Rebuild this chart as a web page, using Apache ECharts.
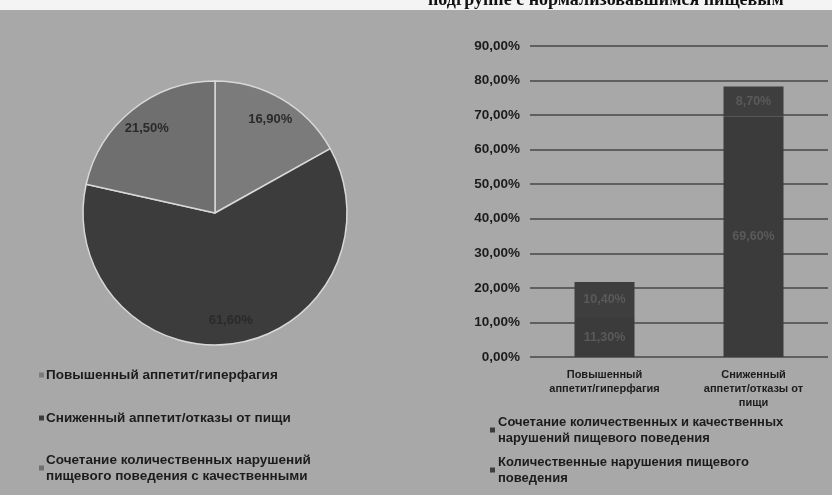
<!DOCTYPE html>
<html>
<head>
<meta charset="utf-8">
<script src="https://cdn.jsdelivr.net/npm/echarts@6/dist/echarts.min.js"></script>
<style>
  html, body { margin: 0; padding: 0; background: #a8a8a8; }
  #main { width: 832px; height: 495px; }
</style>
</head>
<body>
<div id="main"></div>
<script>
// круговая диаграмма
const pieNames = [
    'Повышенный аппетит/гиперфагия',
    'Сниженный аппетит/отказы от пищи',
    'Сочетание количественных нарушений\nпищевого поведения с качественными'
];
const pieValues = [16.9, 61.6, 21.5];
const pieColors = ['#7b7b7b', '#3c3c3c', '#6f6f6f'];

// столбчатая диаграмма
const barCategories = ['Повышенный\nаппетит/гиперфагия', 'Сниженный\nаппетит/отказы от\nпищи'];
const seriesNames = [
    'Сочетание количественных и качественных\nнарушений пищевого поведения',
    'Количественные нарушения пищевого\nповедения'
];
const combinedValues = [11.3, 69.6];
const quantValues = [10.4, 8.7];
const yTicks = [0, 10, 20, 30, 40, 50, 60, 70, 80, 90];

const pct = v => v.toFixed(2).replace('.', ',') + '%';
const font = '"Liberation Sans", Arial, sans-serif';

var chartDom = document.getElementById('main');
var myChart = echarts.init(chartDom);
var option;

const pieData = pieNames.map((n, i) => ({ name: n, value: pieValues[i], itemStyle: { color: pieColors[i] } }));
const legendText = size => ({ fontSize: size, fontWeight: 'bold', color: '#1c1c1c', lineHeight: 16 });

option = {
    backgroundColor: '#a8a8a8',
    animation: false,
    textStyle: { fontFamily: font },
    graphic: [
        { type: 'rect', shape: { x: 0, y: 0, width: 832, height: 10 }, style: { fill: '#f4f4f4' } },
        {
            type: 'text', left: 428, top: -9,
            style: { text: 'подгруппе с нормализовавшимся пищевым', fill: '#111', font: 'bold 18px "Liberation Serif", serif' }
        }
    ],
    legend: [
        {
            data: pieNames.slice(0, 2),
            orient: 'vertical', left: 39, top: 367, itemGap: 27, padding: 0,
            icon: 'rect', itemWidth: 5, itemHeight: 5, itemGap: 27,
            itemStyle: { borderWidth: 0 },
            textStyle: Object.assign(legendText(13.5), { padding: [0, 0, 0, -3] })
        },
        {
            data: pieNames.slice(2),
            orient: 'vertical', left: 39, top: 452, padding: 0,
            icon: 'rect', itemWidth: 5, itemHeight: 5,
            itemStyle: { borderWidth: 0 },
            textStyle: Object.assign(legendText(13.5), { padding: [0, 0, 0, -3] })
        },
        {
            data: seriesNames,
            orient: 'vertical', left: 490, top: 414, itemGap: 8, padding: 0,
            icon: 'rect', itemWidth: 5, itemHeight: 5,
            textStyle: Object.assign(legendText(13), { padding: [0, 0, 0, -2] })
        }
    ],
    grid: { left: 530, right: 4, top: 46, bottom: 138 },
    xAxis: {
        type: 'category',
        data: barCategories,
        axisLine: { show: false },
        axisTick: { show: false },
        axisLabel: { interval: 0, fontSize: 11, fontWeight: 'bold', color: '#1c1c1c', lineHeight: 14, margin: 11 }
    },
    yAxis: {
        type: 'value',
        min: 0, max: 90, interval: 10,
        axisLine: { show: false },
        axisTick: { show: false },
        axisLabel: { fontSize: 13.5, fontWeight: 'bold', color: '#1c1c1c', margin: 10, formatter: v => pct(v) },
        splitLine: { lineStyle: { color: '#474747', width: 1.5 } }
    },
    series: [
        {
            type: 'pie',
            name: 'pie',
            center: [215, 213],
            radius: [0, 132],
            startAngle: 90,
            clockwise: true,
            data: pieData,
            label: { show: false },
            labelLine: { show: false },
            itemStyle: { borderColor: '#d8d8d8', borderWidth: 1.5 }
        },
        {
            // слой для подписей секторов
            type: 'pie',
            name: 'pieLabels',
            center: [215, 213],
            radius: [80, 132],
            startAngle: 90,
            clockwise: true,
            silent: true,
            legendHoverLink: false,
            data: pieNames.map((n, i) => ({ name: n, value: pieValues[i] })),
            itemStyle: { color: 'rgba(0,0,0,0)' },
            label: {
                show: true, position: 'inside',
                formatter: p => pct(p.value),
                fontSize: 13, fontWeight: 'bold',
                color: '#2a2a2a'
            },
            labelLine: { show: false }
        },
        {
            name: seriesNames[0],
            type: 'bar',
            stack: 'total',
            barWidth: 60,
            data: combinedValues,
            itemStyle: { color: '#3b3b3b' },
            label: { show: true, position: 'inside', formatter: p => pct(p.value), color: '#5a5a5a', fontSize: 12.5, fontWeight: 'bold' }
        },
        {
            name: seriesNames[1],
            type: 'bar',
            stack: 'total',
            barWidth: 60,
            data: quantValues,
            itemStyle: { color: '#3e3e3e' },
            label: { show: true, position: 'inside', formatter: p => pct(p.value), color: '#5a5a5a', fontSize: 12.5, fontWeight: 'bold' }
        }
    ]
};

option && myChart.setOption(option);
</script>
</body>
</html>
